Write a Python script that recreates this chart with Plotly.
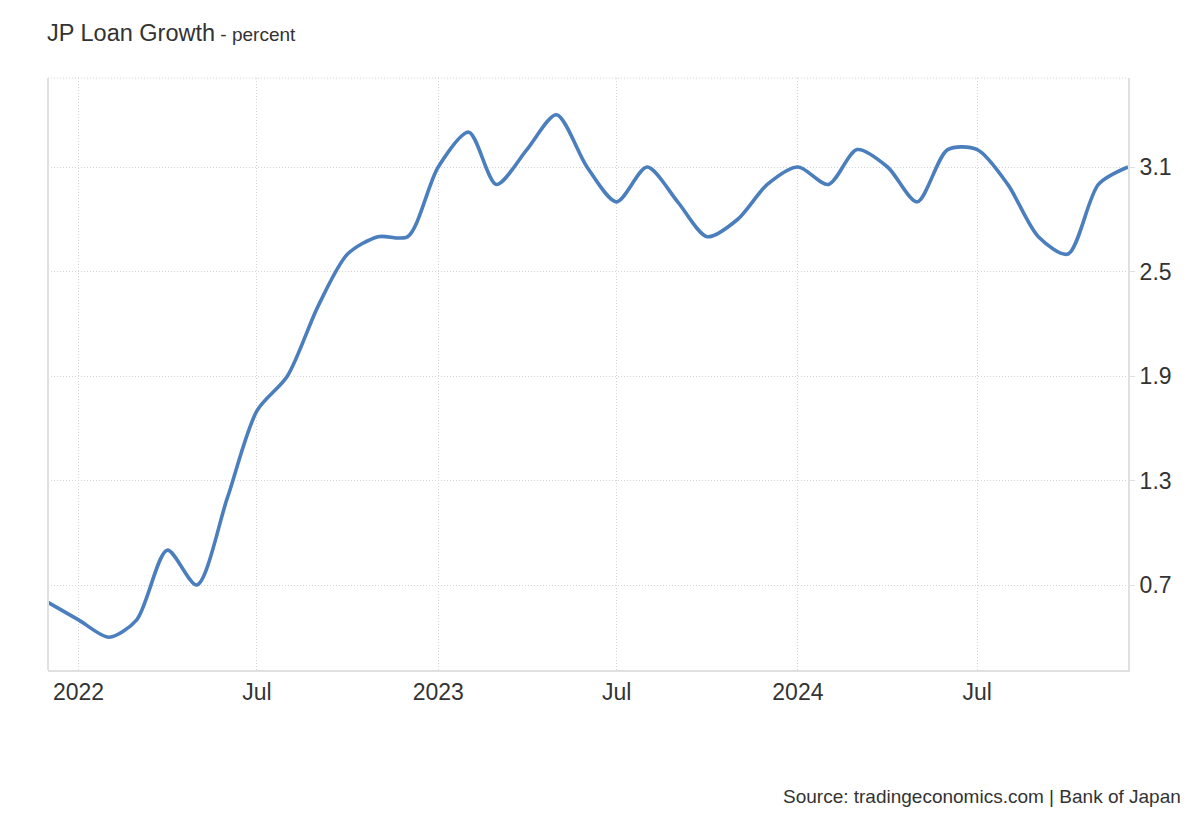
import plotly.graph_objects as go

dates = ["2021-12-01", "2022-01-01", "2022-02-01", "2022-03-01", "2022-04-01", "2022-05-01",
         "2022-06-01", "2022-07-01", "2022-08-01", "2022-09-01", "2022-10-01", "2022-11-01",
         "2022-12-01", "2023-01-01", "2023-02-01", "2023-03-01", "2023-04-01", "2023-05-01",
         "2023-06-01", "2023-07-01", "2023-08-01", "2023-09-01", "2023-10-01", "2023-11-01",
         "2023-12-01", "2024-01-01", "2024-02-01", "2024-03-01", "2024-04-01", "2024-05-01",
         "2024-06-01", "2024-07-01", "2024-08-01", "2024-09-01", "2024-10-01", "2024-11-01",
         "2024-12-01"]
values = [0.6, 0.5, 0.4, 0.5, 0.9, 0.7,
          1.2, 1.7, 1.9, 2.3, 2.6, 2.7,
          2.7, 3.1, 3.3, 3.0, 3.2, 3.4,
          3.1, 2.9, 3.1, 2.9, 2.7, 2.8,
          3.0, 3.1, 3.0, 3.2, 3.1, 2.9,
          3.2, 3.2, 3.0, 2.7, 2.6, 3.0,
          3.1]

x_tickvals = ["2022-01-01", "2022-07-01", "2023-01-01", "2023-07-01", "2024-01-01", "2024-07-01"]
x_ticktext = ["2022", "Jul", "2023", "Jul", "2024", "Jul"]
y_tickvals = [0.7, 1.3, 1.9, 2.5, 3.1]
y_ticktext = ["0.7", "1.3", "1.9", "2.5", "3.1"]

FONT = "Liberation Sans, Arial, sans-serif"
GRID = "#d4d4d4"
AXIS = "#e0e0e0"

fig = go.Figure()
fig.add_trace(go.Scatter(
    x=dates, y=values, mode="lines",
    line=dict(color="#4a7ebd", width=3.6, shape="spline", smoothing=0.8),
    hoverinfo="x+y", showlegend=False,
))

fig.update_layout(
    width=1184, height=804,
    margin=dict(l=40, r=64, t=70, b=142),
    paper_bgcolor="white", plot_bgcolor="white",
    font=dict(family=FONT, color="#333333"),
    xaxis=dict(
        range=["2021-12-01", "2024-12-01"],
        tickvals=x_tickvals, ticktext=x_ticktext,
        tickfont=dict(size=23, color="#333333"),
        showgrid=True, gridcolor=GRID, griddash="1px,2px", gridwidth=1,
        showline=True, linecolor=AXIS, linewidth=2,
        mirror=False, ticks="", zeroline=False,
    ),
    yaxis=dict(
        range=[0.212, 3.611], side="right",
        tickvals=y_tickvals, ticktext=y_ticktext,
        tickfont=dict(size=23, color="#333333"),
        showgrid=True, gridcolor=GRID, griddash="1px,2px", gridwidth=1,
        showline=True, linecolor=AXIS, linewidth=2,
        ticks="outside", ticklen=5, tickcolor=AXIS,
        zeroline=False,
    ),
    shapes=[
        dict(type="line", xref="paper", yref="paper", x0=0, x1=0, y0=0, y1=1,
             line=dict(color=AXIS, width=2)),
        dict(type="line", xref="paper", yref="paper", x0=0, x1=1, y0=1, y1=1,
             line=dict(color=GRID, width=1, dash="1px,2px")),
    ],
    annotations=[
        dict(text="JP Loan Growth<span style='font-size:19px'> - percent</span>",
             xref="paper", yref="paper", x=0, y=1.076, xanchor="left", yanchor="middle",
             xshift=-3, showarrow=False, font=dict(size=23.5, color="#333333", family=FONT)),
        dict(text="Source: tradingeconomics.com | Bank of Japan",
             xref="paper", yref="paper", x=1.048, y=-0.2145, xanchor="right", yanchor="middle",
             xshift=3, showarrow=False, font=dict(size=19, color="#333333", family=FONT)),
    ],
)

fig.write_html("out.html")
